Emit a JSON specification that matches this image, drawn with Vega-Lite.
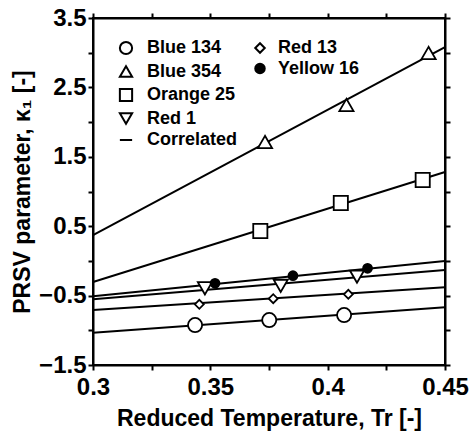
{
  "$schema": "https://vega.github.io/schema/vega-lite/v6.json",
  "width": 352,
  "height": 347,
  "autosize": "none",
  "padding": {"left": 93, "top": 18, "right": 29, "bottom": 72},
  "background": "white",
  "config": {
    "font": "Liberation Sans",
    "view": {"stroke": "black", "strokeWidth": 2},
    "axis": {
      "labelFont": "Liberation Sans", "labelFontWeight": "bold", "labelFontSize": 24, "labelColor": "black",
      "titleFont": "Liberation Sans", "titleFontWeight": "bold", "titleFontSize": 23, "titleColor": "black",
      "domain": true, "domainColor": "black", "domainWidth": 2, "ticks": true, "tickColor": "black", "tickWidth": 2, "grid": false, "zindex": 1
    },
    "legend": {
      "labelFont": "Liberation Sans", "labelFontWeight": "bold", "labelFontSize": 18, "labelColor": "black",
      "rowPadding": 2.5, "labelOffset": 12, "padding": 0
    }
  },
  "datasets": {
    "pts": [
      {"dye": "Blue 354", "group": 1, "tr": 0.3733, "k": 1.713},
      {"dye": "Blue 354", "group": 1, "tr": 0.408, "k": 2.246},
      {"dye": "Blue 354", "group": 1, "tr": 0.443, "k": 2.996},
      {"dye": "Orange 25", "group": 1, "tr": 0.3713, "k": 0.431},
      {"dye": "Orange 25", "group": 1, "tr": 0.4056, "k": 0.834},
      {"dye": "Orange 25", "group": 1, "tr": 0.4405, "k": 1.166},
      {"dye": "Red 1", "group": 1, "tr": 0.3477, "k": -0.395},
      {"dye": "Red 1", "group": 1, "tr": 0.380, "k": -0.36},
      {"dye": "Red 1", "group": 1, "tr": 0.4125, "k": -0.227},
      {"dye": "Blue 134", "group": 1, "tr": 0.3435, "k": -0.924},
      {"dye": "Blue 134", "group": 1, "tr": 0.3751, "k": -0.852},
      {"dye": "Blue 134", "group": 1, "tr": 0.407, "k": -0.78},
      {"dye": "Red 13", "group": 2, "tr": 0.3453, "k": -0.626},
      {"dye": "Red 13", "group": 2, "tr": 0.3768, "k": -0.544},
      {"dye": "Red 13", "group": 2, "tr": 0.4088, "k": -0.481},
      {"dye": "Yellow 16", "group": 2, "tr": 0.352, "k": -0.323},
      {"dye": "Yellow 16", "group": 2, "tr": 0.3852, "k": -0.213},
      {"dye": "Yellow 16", "group": 2, "tr": 0.417, "k": -0.107}
    ],
    "lines": [
      {"dye": "Blue 354", "tr": 0.3, "k": 0.373},
      {"dye": "Blue 354", "tr": 0.45, "k": 3.08},
      {"dye": "Orange 25", "tr": 0.3, "k": -0.304},
      {"dye": "Orange 25", "tr": 0.45, "k": 1.28},
      {"dye": "Yellow 16", "tr": 0.3, "k": -0.51},
      {"dye": "Yellow 16", "tr": 0.45, "k": 0.0},
      {"dye": "Red 1", "tr": 0.3, "k": -0.553},
      {"dye": "Red 1", "tr": 0.45, "k": -0.131},
      {"dye": "Red 13", "tr": 0.3, "k": -0.707},
      {"dye": "Red 13", "tr": 0.45, "k": -0.38},
      {"dye": "Blue 134", "tr": 0.3, "k": -1.034},
      {"dye": "Blue 134", "tr": 0.45, "k": -0.669}
    ]
  },
  "layer": [
    {
      "data": {"name": "lines"},
      "mark": {"type": "line", "color": "black", "strokeWidth": 2},
      "encoding": {
        "x": {"field": "tr", "type": "quantitative", "scale": {"domain": [0.3, 0.45], "nice": false, "zero": false},
          "axis": {"title": "Reduced Temperature, Tr [-]", "orient": "bottom",
            "values": [0.3, 0.325, 0.35, 0.375, 0.4, 0.425, 0.45], "format": "~g",
            "labelExpr": "round(datum.value*40)%2==0 ? datum.label : ''",
            "tickSize": 5, "labelPadding": 5, "titlePadding": 8, "labelFlush": false, "labelOverlap": false}},
        "y": {"field": "k", "type": "quantitative", "scale": {"domain": [-1.5, 3.5], "nice": false, "zero": false},
          "axis": {"title": "PRSV parameter, κ₁ [-]", "orient": "left",
            "values": [-1.5, -1, -0.5, 0, 0.5, 1, 1.5, 2, 2.5, 3, 3.5], "format": "~g",
            "labelExpr": "abs(round(datum.value*2))%2==1 ? datum.label : ''",
            "tickSize": 5, "labelPadding": 2, "titlePadding": 4, "labelFlush": false, "labelOverlap": false}},
        "detail": {"field": "dye"}
      }
    },
    {
      "data": {"name": "lines"},
      "mark": {"type": "point", "opacity": 0},
      "encoding": {
        "x": {"field": "tr", "type": "quantitative",
          "axis": {"title": null, "orient": "top", "labels": false, "tickColor": "black",
            "values": [0.3, 0.325, 0.35, 0.375, 0.4, 0.425, 0.45], "tickSize": 5}},
        "y": {"field": "k", "type": "quantitative",
          "axis": {"title": null, "orient": "right", "labels": false, "tickColor": "black",
            "values": [-1.5, -1, -0.5, 0, 0.5, 1, 1.5, 2, 2.5, 3, 3.5], "tickSize": 5}}
      }
    },
    {
      "data": {"name": "pts"},
      "transform": [{"filter": "datum.group == 1"}],
      "mark": {"type": "point", "filled": false, "fill": "white", "color": "black", "strokeWidth": 1.8, "size": 200, "opacity": 1},
      "encoding": {
        "x": {"field": "tr", "type": "quantitative", "axis": null},
        "y": {"field": "k", "type": "quantitative", "axis": null},
        "shape": {"field": "dye", "type": "nominal",
          "scale": {"domain": ["Blue 134", "Blue 354", "Orange 25", "Red 1", "Correlated"],
                    "range": ["circle", "triangle-up", "square", "triangle-down", "stroke"]},
          "legend": {"title": null, "orient": "none", "legendX": 24, "legendY": 21,
            "symbolSize": 150, "symbolStrokeWidth": 2, "labelOffset": 12}}
      }
    },
    {
      "data": {"name": "pts"},
      "transform": [{"filter": "datum.group == 2"}],
      "mark": {"type": "point", "filled": false, "color": "black", "strokeWidth": 1.8, "size": 80, "opacity": 1},
      "encoding": {
        "x": {"field": "tr", "type": "quantitative", "axis": null},
        "y": {"field": "k", "type": "quantitative", "axis": null},
        "shape": {"field": "dye", "type": "nominal",
          "scale": {"domain": ["Red 13", "Yellow 16"], "range": ["diamond", "circle"]},
          "legend": {"title": null, "orient": "none", "legendX": 158, "legendY": 21,
            "symbolSize": 90, "symbolStrokeWidth": 2, "labelOffset": 9}},
        "fill": {"field": "dye", "type": "nominal",
          "scale": {"domain": ["Red 13", "Yellow 16"], "range": ["white", "black"]},
          "legend": {"title": null, "orient": "none", "legendX": 158, "legendY": 21,
            "symbolSize": 90, "symbolStrokeWidth": 2, "labelOffset": 9}}
      }
    }
  ],
  "resolve": {
    "scale": {"shape": "independent", "fill": "independent"},
    "axis": {"x": "independent", "y": "independent"}
  }
}
